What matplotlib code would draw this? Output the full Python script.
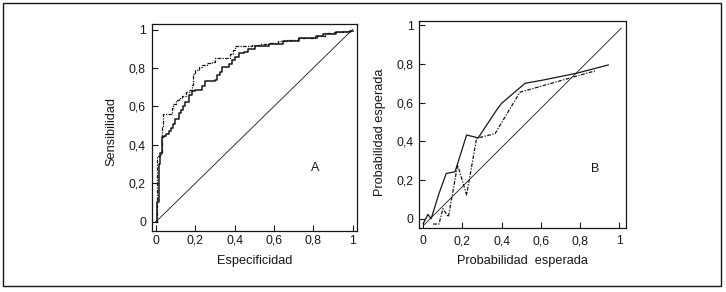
import matplotlib
matplotlib.use("Agg")
import matplotlib.pyplot as plt
from matplotlib.patches import Rectangle

plt.rcParams['font.family'] = ['Liberation Sans', 'DejaVu Sans']

# ticks (coma decimal)
tick_vals = [0, 0.2, 0.4, 0.6, 0.8, 1]
tick_labels = ['0', '0,2', '0,4', '0,6', '0,8', '1']

# A: curvas ROC (escalones)
roc1_x = [0.0, 0.004, 0.013, 0.021, 0.03, 0.04, 0.05, 0.065, 0.075, 0.085, 0.098,
          0.115, 0.125, 0.135, 0.149, 0.166, 0.183, 0.2, 0.234, 0.251, 0.302,
          0.31, 0.328, 0.336, 0.37, 0.387, 0.404, 0.42, 0.446, 0.47, 0.506,
          0.575, 0.644, 0.729, 0.814, 0.848, 0.917, 0.985, 1.0]
roc1_y = [0.0, 0.10, 0.30, 0.36, 0.44, 0.445, 0.455, 0.47, 0.49, 0.51, 0.535,
          0.565, 0.58, 0.60, 0.625, 0.66, 0.68, 0.686, 0.704, 0.73, 0.738,
          0.764, 0.78, 0.806, 0.82, 0.842, 0.859, 0.876, 0.885, 0.90, 0.912,
          0.925, 0.94, 0.955, 0.965, 0.975, 0.985, 0.99, 0.99]

roc2_x = [0.0, 0.003, 0.02, 0.028, 0.034, 0.08, 0.085, 0.10, 0.115, 0.13, 0.15,
          0.17, 0.185, 0.19, 0.20, 0.217, 0.234, 0.26, 0.285, 0.30, 0.375,
          0.39, 0.404, 0.49, 0.53, 0.58, 0.62, 0.66, 0.72, 0.82, 0.86, 0.90,
          0.95, 0.99, 1.0]
roc2_y = [0.0, 0.34, 0.35, 0.50, 0.56, 0.59, 0.615, 0.635, 0.645, 0.655, 0.675,
          0.685, 0.71, 0.77, 0.79, 0.805, 0.815, 0.824, 0.832, 0.85, 0.875,
          0.895, 0.914, 0.918, 0.925, 0.93, 0.94, 0.945, 0.955, 0.965, 0.98,
          0.985, 0.99, 0.995, 0.995]

diag_a_x = [0, 1]
diag_a_y = [0, 1]

# B: calibracion
cal1_x = [0.0, 0.024, 0.04, 0.08, 0.117, 0.162, 0.221, 0.28, 0.374, 0.40,
          0.519, 0.612, 0.782, 0.944]
cal1_y = [-0.024, 0.023, 0.0, 0.13, 0.234, 0.243, 0.433, 0.418, 0.562, 0.597,
          0.70, 0.717, 0.752, 0.795]

cal2_x = [0.05, 0.08, 0.10, 0.128, 0.175, 0.221, 0.272, 0.366, 0.493, 0.876]
cal2_y = [-0.027, -0.027, 0.052, 0.01, 0.278, 0.123, 0.416, 0.44, 0.654, 0.764]

diag_b_x = [0.0, 1.01]
diag_b_y = [-0.035, 0.985]

ink = '#161616'

fig = plt.figure(figsize=(7.26, 2.92), dpi=100)
fig.patches.append(Rectangle((3 / 726, 1 - 286 / 292), 718 / 726, 283 / 292,
                             transform=fig.transFigure, fill=False,
                             edgecolor=ink, linewidth=1.0))

axA = fig.add_axes([0.2087, 0.2099, 0.2831, 0.7079])
axB = fig.add_axes([0.5771, 0.2182, 0.2851, 0.7099])

axA.plot(roc1_x, roc1_y, drawstyle='steps-post', color=ink, lw=1.1)
axA.plot(roc2_x, roc2_y, drawstyle='steps-post', color=ink, lw=0.9,
         linestyle=(0, (3, 1, 1, 1)))
axA.plot(diag_a_x, diag_a_y, color=ink, lw=0.6)
axA.text(0.81, 0.278, 'A', fontsize=9, ha='center', va='center', color=ink)
axA.set_xlim(-0.023, 1.023)
axA.set_ylim(-0.047, 1.029)
axA.set_xlabel('Especificidad', fontsize=9.2, color=ink)
axA.set_ylabel('Sensibilidad', fontsize=9.2, color=ink)
axA.xaxis.label.set_va('center')
axA.yaxis.label.set_va('center')
axA.xaxis.set_label_coords(0.502, -0.145)
axA.yaxis.set_label_coords(-0.197, 0.478)

axB.plot(cal1_x, cal1_y, color=ink, lw=0.9)
axB.plot(cal2_x, cal2_y, color=ink, lw=0.9, linestyle=(0, (3, 1.2, 1, 1.2)))
axB.plot(diag_b_x, diag_b_y, color=ink, lw=0.6)
axB.text(0.876, 0.257, 'B', fontsize=9, ha='center', va='center', color=ink)
axB.set_xlim(-0.022, 1.034)
axB.set_ylim(-0.049, 1.022)
axB.set_xlabel('Probabilidad  esperada', fontsize=9.2, color=ink)
axB.set_ylabel('Probabilidad esperada', fontsize=9.2, color=ink)
axB.xaxis.label.set_va('center')
axB.yaxis.label.set_va('center')
axB.xaxis.set_label_coords(0.5, -0.156)
axB.yaxis.set_label_coords(-0.188, 0.465)

for ax, xpad in ((axA, 3), (axB, 5)):
    ax.set_xticks(tick_vals)
    ax.set_xticklabels(tick_labels)
    ax.set_yticks(tick_vals)
    ax.set_yticklabels(tick_labels)
    ax.tick_params(direction='in', length=4, width=0.8, labelsize=8.7,
                   colors=ink)
    ax.tick_params(axis='x', pad=xpad)
    ax.tick_params(axis='y', pad=4)
    for s in ax.spines.values():
        s.set_linewidth(0.9)
        s.set_color(ink)

fig.savefig('out.png', dpi=100)
